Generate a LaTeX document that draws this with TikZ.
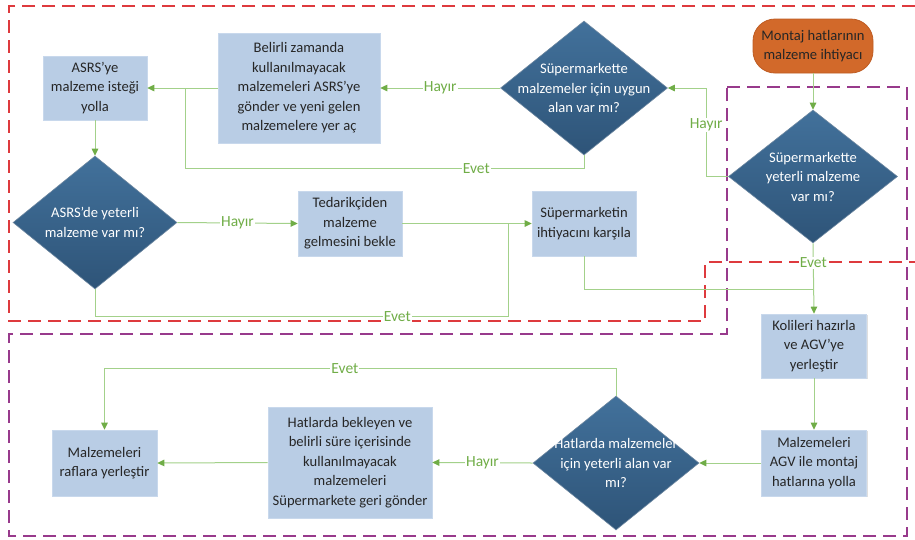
\documentclass[tikz,border=0pt]{standalone}
\usepackage{fontspec}
\setmainfont{Carlito}
\usetikzlibrary{shapes.geometric,arrows.meta,shadows}
\definecolor{boxfill}{RGB}{185,205,229}
\definecolor{boxline}{RGB}{200,216,236}
\definecolor{dtop}{RGB}{66,113,155}
\definecolor{dbot}{RGB}{46,84,120}
\definecolor{lgreen}{RGB}{163,209,138}
\definecolor{agreen}{RGB}{112,173,71}
\definecolor{tgreen}{RGB}{112,173,71}
\definecolor{redd}{RGB}{222,58,62}
\definecolor{purp}{RGB}{152,58,140}
\definecolor{orng}{RGB}{210,105,42}
\definecolor{orngline}{RGB}{190,92,35}
\newcommand\figfont{\fontsize{14.6}{19.5}\selectfont}
\newcommand\lblfont{\fontsize{15.5}{18}\selectfont}
\begin{document}
\begin{tikzpicture}[x=1pt,y=-1pt,
  box/.style={draw=boxline, line width=0.6pt, fill=boxfill, align=center, font=\figfont, text=black!85, inner sep=0pt,
    drop shadow={shadow xshift=1.2pt, shadow yshift=-1.2pt, opacity=0.25, fill=black!50}},
  dia/.style={diamond, draw=dbot!70!white, line width=0.6pt, top color=dtop, bottom color=dbot, inner sep=0pt, shape aspect=1},
  dtext/.style={align=center, font=\figfont, text=white, inner sep=0pt},
  term/.style={rectangle, rounded corners=22pt, draw=orngline, line width=0.8pt, fill=orng, align=center, font=\figfont, text=black!85, inner sep=0pt},
  line/.style={draw=lgreen, line width=1pt},
  arr/.style={line, -{Triangle[length=7pt,width=6.5pt,color=agreen]}},
  lbl/.style={fill=white, text=tgreen, font=\lblfont, inner sep=1pt},
  redframe/.style={draw=redd, line width=1.8pt, dash pattern=on 13pt off 7pt},
  purframe/.style={draw=purp, line width=1.8pt, dash pattern=on 13pt off 7pt}
]
\useasboundingbox (0,0) rectangle (915,539);
\fill[white] (0,0) rectangle (915,539);

% frames
\draw[redframe] (915,6) -- (9,6) -- (9,321) -- (705,321) -- (705,262) -- (915,262);
\draw[purframe] (727,87) -- (907,87) -- (907,536) -- (9,536) -- (9,334) -- (727,334) -- cycle;

% nodes
\node[term, minimum width=120pt, minimum height=54pt] (mont) at (813,46) {Montaj hatlarının\\malzeme ihtiyacı};

\node[dia, minimum width=169pt, minimum height=133pt] (dyet) at (813,176.5) {};
\node[dtext] (dyett) at (dyet) {Süpermarkette\\yeterli malzeme\\var mı?};

\node[dia, minimum width=167pt, minimum height=134pt] (duyg) at (584,88) {};
\node[dtext] (duygt) at (duyg) {Süpermarkette\\malzemeler için uygun\\alan var mı?};

\node[box, minimum width=162pt, minimum height=110pt] (bbel) at (299,88) {Belirli zamanda\\kullanılmayacak\\malzemeleri ASRS’ye\\gönder ve yeni gelen\\malzemelere yer aç};

\node[box, minimum width=104pt, minimum height=64pt] (basr) at (95,88) {ASRS’ye\\malzeme isteği\\yolla};

\node[dia, minimum width=164pt, minimum height=133pt] (dasr) at (95,222.5) {};
\node[dtext] (dasrt) at (dasr) {ASRS’de yeterli\\malzeme var mı?};

\node[box, minimum width=104pt, minimum height=65pt] (bted) at (350,223.5) {Tedarikçiden\\malzeme\\gelmesini bekle};

\node[box, minimum width=104pt, minimum height=65pt] (bsup) at (584,223.5) {Süpermarketin\\ihtiyacını karşıla};

\node[box, minimum width=105pt, minimum height=64pt] (bkol) at (814,346) {Kolileri hazırla\\ve AGV’ye\\yerleştir};

\node[box, minimum width=105pt, minimum height=66pt] (bagv) at (814,463) {Malzemeleri\\AGV ile montaj\\hatlarına yolla};

\node[dia, minimum width=166pt, minimum height=134pt] (dhat) at (616,463) {};
\node[dtext] (dhatt) at (dhat) {Hatlarda malzemeler\\için yeterli alan var\\mı?};

\node[box, minimum width=164pt, minimum height=111pt] (bhat) at (350,462.5) {Hatlarda bekleyen ve\\belirli süre içerisinde\\kullanılmayacak\\malzemeleri\\Süpermarkete geri gönder};

\node[box, minimum width=105pt, minimum height=66pt] (braf) at (104.5,463) {Malzemeleri\\raflara yerleştir};

% junction coordinates
\coordinate (j1) at (185,88);
\coordinate (j2) at (508,223.5);
\coordinate (j3) at (813,289);

% connectors
\draw[arr] (mont.south) -- (dyet.north);
\draw[arr] (dyet.west) -- ++(-22,0) |- node[lbl, pos=0.29]{Hayır} (duyg.east);
\draw[arr] (duyg.west) -- node[lbl]{Hayır} (bbel.east);
\draw[line] (duyg.south) -- ++(0,13) -| node[lbl, pos=0.135]{Evet} (j1);
\draw[arr] (bbel.west) -- (basr.east);
\draw[arr] (basr.south) -- (dasr.north);
\draw[arr] (dasr.east) -- node[lbl]{Hayır} (bted.west);
\draw[arr] (bted.east) -- (bsup.west);
\draw[line] (dasr.south) -- ++(0,27) -| node[lbl, pos=0.366]{Evet} (j2);
\draw[line] (bsup.south) |- (j3);
\draw[arr] (dyet.south) -- node[lbl, pos=0.28]{Evet} (bkol.north);
\draw[arr] (bkol.south) -- (bagv.north);
\draw[arr] (bagv.west) -- (dhat.east);
\draw[arr] (dhat.west) -- node[lbl]{Hayır} (bhat.east);
\draw[arr] (bhat.west) -- (braf.east);
\draw[arr] (dhat.north) -- ++(0,-27) -| node[lbl, pos=0.265]{Evet} (braf.north);
\end{tikzpicture}
\end{document}
